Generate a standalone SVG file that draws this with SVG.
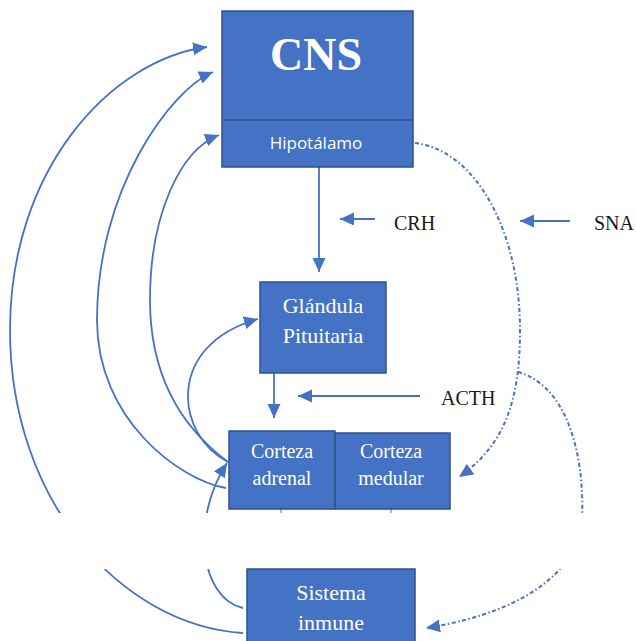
<svg xmlns="http://www.w3.org/2000/svg" width="636" height="641" viewBox="0 0 636 641">
<style>
.box{fill:#4472C4;stroke:#2F528F;stroke-width:1.5}
.lbl{fill:#FFFFFF;font-family:"Liberation Serif","Times New Roman",serif;text-anchor:middle}
.hlbl{fill:#FFFFFF;font-family:"Open Sans","Liberation Sans",sans-serif;text-anchor:middle}
.ext{fill:#1a1a1a;font-family:"Liberation Serif","Times New Roman",serif;font-size:20px}
.c{fill:none;stroke:#4472C4;stroke-width:1.8}
.d{fill:none;stroke:#4472C4;stroke-width:2;stroke-dasharray:4 2.5 1.5 2.5}
</style>
<defs>
<marker id="ah" markerUnits="userSpaceOnUse" markerWidth="16" markerHeight="14" refX="14" refY="6.5" orient="auto">
<path d="M0,0 L14,6.5 L0,13 z" fill="#4472C4"/>
</marker>
<clipPath id="band">
<rect x="0" y="0" width="636" height="513"/>
<rect x="0" y="569" width="636" height="72"/>
</clipPath>
</defs>

<g id="connectors" clip-path="url(#band)">
<!-- Sistema inmune -> CNS (outer) -->
<path class="c" marker-end="url(#ah)" d="M243,633 C120,625 10,500 10,330 C10,170 110,60 207,47"/>
<!-- Corteza adrenal -> CNS -->
<path class="c" marker-end="url(#ah)" d="M226,488 C180,480 97,420 97,320 C97,190 170,90 213,72"/>
<!-- Corteza adrenal -> Hipotalamo -->
<path class="c" marker-end="url(#ah)" d="M228,462 C185,430 150,380 150,300 C150,215 180,150 219,135"/>
<!-- Corteza adrenal -> Glandula -->
<path class="c" marker-end="url(#ah)" d="M228,462 C175,435 165,345 258,319"/>
<!-- Sistema inmune -> Corteza adrenal -->
<path class="c" marker-end="url(#ah)" d="M243,608 C200,598 190,520 227,463"/>
<!-- Hipotalamo -> Glandula -->
<path class="c" marker-end="url(#ah)" d="M319,167 L319,272"/>
<!-- Glandula -> Corteza -->
<path class="c" marker-end="url(#ah)" d="M274,373 L274,418"/>
<!-- CRH -->
<path class="c" marker-end="url(#ah)" d="M375,219 L340,219"/>
<!-- SNA -->
<path class="c" marker-end="url(#ah)" d="M570,221 L520,221"/>
<!-- ACTH -->
<path class="c" marker-end="url(#ah)" d="M420,396 L298,396"/>
<!-- Hipotalamo -> Corteza medular (dash-dot) -->
<path class="d" marker-end="url(#ah)" d="M415,143 C475,150 520,230 520,330 C520,400 505,445 459,477"/>
<!-- -> Sistema inmune (dash-dot) -->
<path class="d" marker-end="url(#ah)" d="M518,372 C565,385 585,450 582,520 C580,560 540,610 426,628"/>
<!-- small ticks below corteza -->
<path class="c" style="stroke-width:1" d="M281,509 L281,568 M391,509 L391,568"/>
</g>

<g id="cns">
<rect class="box" x="222" y="11" width="191" height="156"/>
<line x1="222" y1="120" x2="413" y2="120" stroke="#2F528F" stroke-width="1.5"/>
<text class="lbl" x="316" y="70" font-size="46" font-weight="bold">CNS</text>
<text class="hlbl" x="316" y="149" font-size="17">Hipotálamo</text>
</g>

<g id="glandula">
<rect class="box" x="260" y="282" width="126" height="91"/>
<text class="lbl" x="323" y="313" font-size="22">Glándula</text>
<text class="lbl" x="323" y="343" font-size="22">Pituitaria</text>
</g>

<g id="corteza-adrenal">
<rect class="box" x="229" y="431" width="106" height="78"/>
<text class="lbl" x="282" y="458" font-size="20">Corteza</text>
<text class="lbl" x="282" y="485" font-size="20">adrenal</text>
</g>

<g id="corteza-medular">
<rect class="box" x="335" y="433" width="115" height="76"/>
<text class="lbl" x="391" y="458" font-size="20">Corteza</text>
<text class="lbl" x="391" y="485" font-size="20">medular</text>
</g>

<g id="sistema-inmune">
<rect class="box" x="247" y="569" width="168" height="80"/>
<text class="lbl" x="331" y="600" font-size="22">Sistema</text>
<text class="lbl" x="331" y="630" font-size="22">inmune</text>
</g>

<g id="labels">
<text class="ext" x="394" y="230">CRH</text>
<text class="ext" x="594" y="230">SNA</text>
<text class="ext" x="441" y="405">ACTH</text>
</g>
</svg>
